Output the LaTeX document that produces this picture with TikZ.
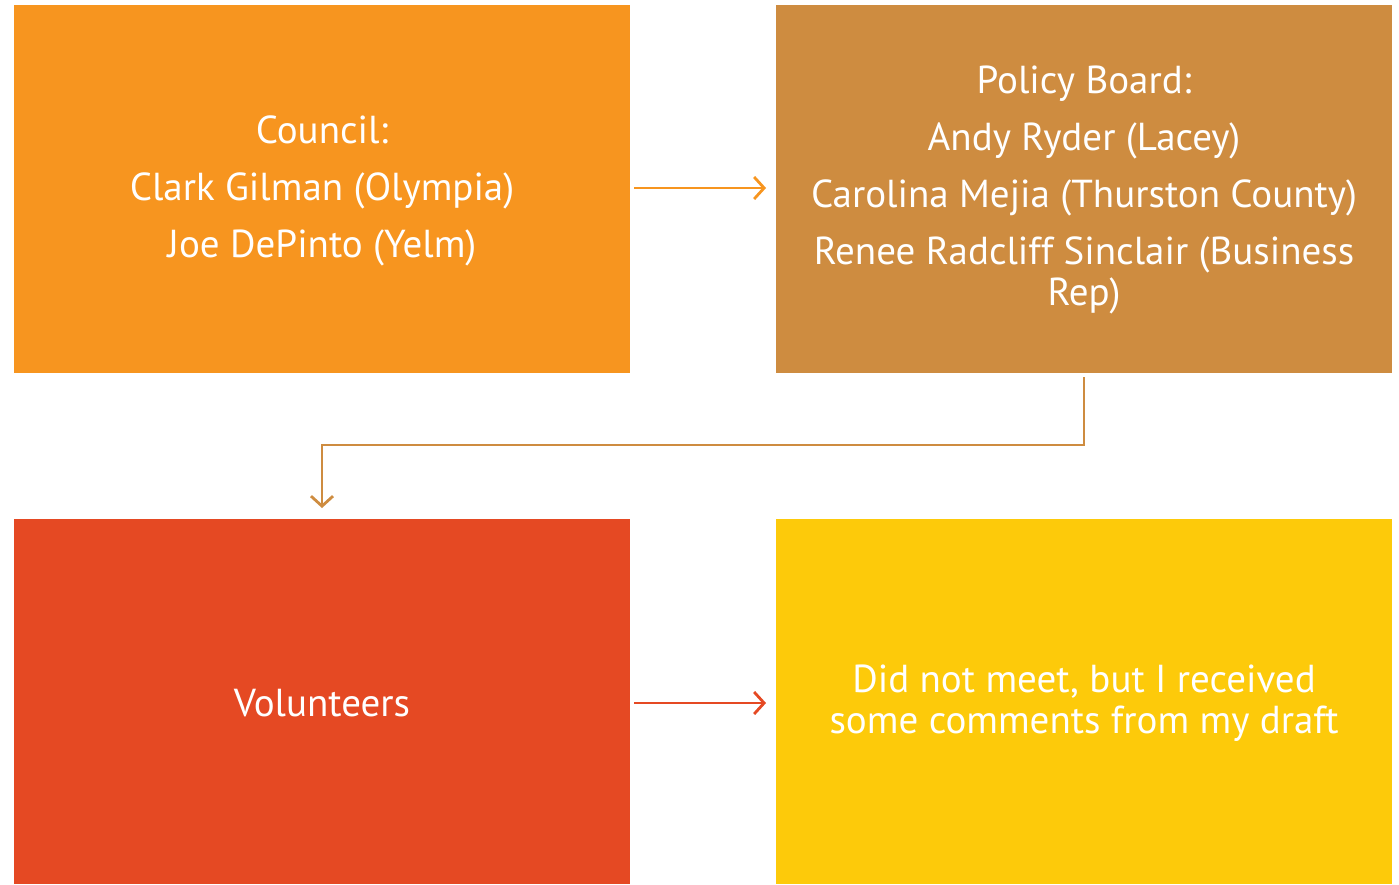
\documentclass[tikz,border=0pt]{standalone}
\usepackage{fontspec}
\setmainfont{PT Sans}
\usetikzlibrary{arrows.meta}
\definecolor{cOrange}{HTML}{F7951F}
\definecolor{cTan}{HTML}{CE8C40}
\definecolor{cRed}{HTML}{E54923}
\definecolor{cYellow}{HTML}{FDCA0A}
\tikzset{
  box/.style={draw=none, inner sep=0pt, text=white, align=center, font=\fontsize{39}{41}\selectfont},
  conn/.style={line width=2.8pt, -{Straight Barb[length=10pt, width=22pt, line width=2.8pt]}},
}
\begin{document}
\begin{tikzpicture}[x=1pt, y=-1pt]
\useasboundingbox (0,0) rectangle (1399,884);
\fill[cOrange] (14,5) rectangle (630,373);
\fill[cTan] (776,5) rectangle (1392,373);
\fill[cRed] (14,519) rectangle (630,884);
\fill[cYellow] (776,519) rectangle (1392,884);
\node[box] (council) at (322,191) {Council:\\[16pt]Clark Gilman (Olympia)\\[16pt]Joe DePinto (Yelm)};
\node[box] (policy) at (1084,190) {Policy Board:\\[16pt]Andy Ryder (Lacey)\\[16pt]Carolina Mejia (Thurston County)\\[16pt]Renee Radcliff Sinclair (Business\\Rep)};
\node[box] (vol) at (322,703) {Volunteers};
\node[box] (did) at (1084,703) {Did not meet, but I received\\some comments from my draft};
\coordinate (a1s) at (634,188);
\coordinate (a1e) at (766,188);
\coordinate (a2s) at (1084,377);
\coordinate (a2e) at (322,508);
\coordinate (a3s) at (634,703);
\coordinate (a3e) at (766,703);
\draw[conn, cOrange] (a1s) -- (a1e);
\draw[conn, cTan] (a2s) |- (703,445) -| (a2e);
\draw[conn, cRed] (a3s) -- (a3e);
\end{tikzpicture}
\end{document}
